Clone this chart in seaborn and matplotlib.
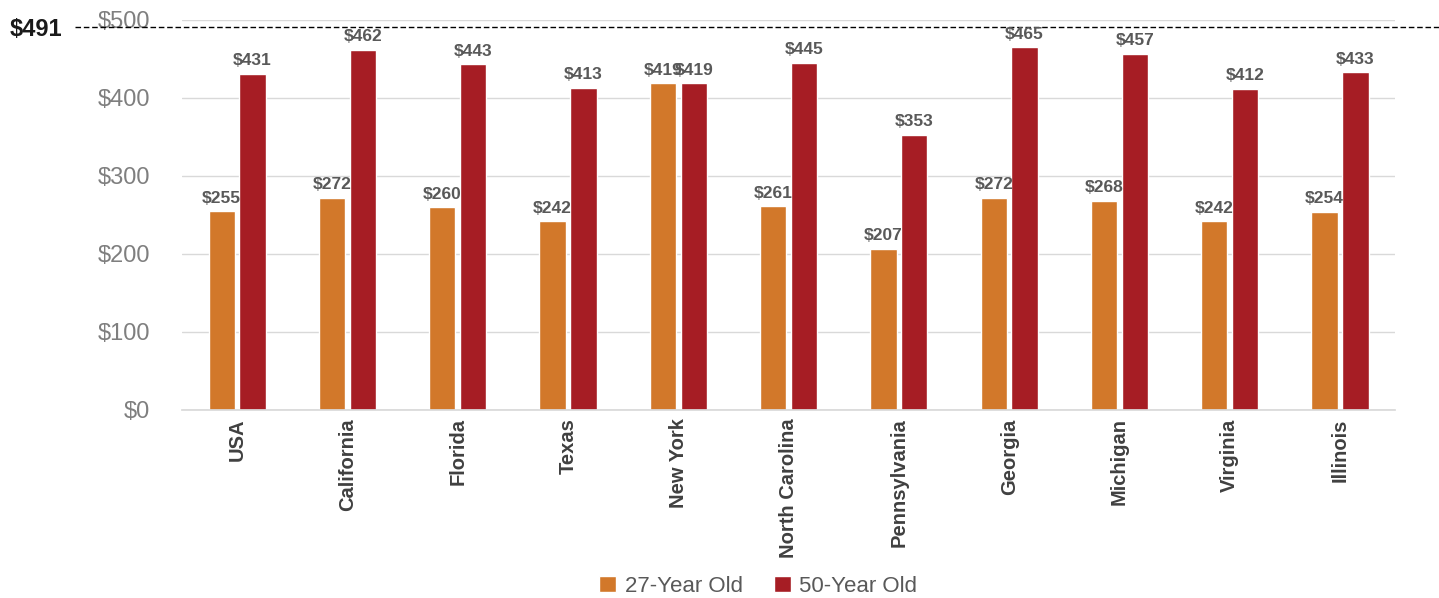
import matplotlib
matplotlib.use("Agg")
import pandas as pd
import matplotlib.pyplot as plt
import seaborn as sns

states = ["USA", "California", "Florida", "Texas", "New York", "North Carolina",
          "Pennsylvania", "Georgia", "Michigan", "Virginia", "Illinois"]
age_27 = [255, 272, 260, 242, 419, 261, 207, 272, 268, 242, 254]
age_50 = [431, 462, 443, 413, 419, 445, 353, 465, 457, 412, 433]
series = ["27-Year Old", "50-Year Old"]
reference = 491

df = pd.DataFrame({
    "state": states * 2,
    "cost": age_27 + age_50,
    "group": [series[0]] * len(states) + [series[1]] * len(states),
})

sns.set_theme(style="white")
plt.rcParams["font.family"] = ["Liberation Sans", "DejaVu Sans"]

fig = plt.figure(figsize=(14.39, 5.98), dpi=100)
ax = fig.add_axes([0.1265, 0.3144, 0.8430, 0.6522])

sns.barplot(data=df, x="state", y="cost", hue="group", order=states,
            hue_order=series, palette=["#D2782A", "#A61D24"],
            width=0.56, gap=0.15, ax=ax, saturation=1)

for cont in ax.containers:
    ax.bar_label(cont, labels=[f"${v:.0f}" for v in cont.datavalues],
                 padding=4, fontsize=12.5, fontweight="bold", color="#595959")

ax.set_ylim(0, 500)
ax.set_xlim(-0.5, len(states) - 0.5)
ax.set_yticks(range(0, 501, 100))
ax.set_yticklabels([f"${v}" for v in range(0, 501, 100)], fontsize=17, color="#7f7f7f")
ax.tick_params(axis="y", pad=23, length=0)
ax.tick_params(axis="x", length=0, pad=6)
ax.set_xticks(range(len(states)))
ax.set_xticklabels(states, rotation=90, fontsize=14.5, fontweight="bold", color="#404040")
ax.set_xlabel("")
ax.set_ylabel("")
ax.yaxis.grid(True, color="#d9d9d9", linewidth=1)
ax.set_axisbelow(True)
for s in ["top", "right", "left"]:
    ax.spines[s].set_visible(False)
ax.spines["bottom"].set_color("#d9d9d9")

# reference line
ax.axhline(reference, xmin=(75 - 182) / 1213, xmax=(1439 - 182) / 1213,
           color="black", linestyle=(0, (4, 2)), linewidth=1, clip_on=False)
ax.annotate(f"${reference}", xy=(0, reference), xycoords=("figure fraction", "data"),
            xytext=(10, -3), textcoords="offset pixels", ha="left", va="center",
            fontsize=17, fontweight="bold", color="#1a1a1a")

ax.get_legend().remove()
handles, labels = ax.get_legend_handles_labels()
leg = fig.legend(handles, labels, loc="center", bbox_to_anchor=(0.527, 0.02), ncol=2,
                 frameon=False, fontsize=16, handlelength=0.75, handleheight=0.75,
                 columnspacing=1.4, handletextpad=0.4)
for t in leg.get_texts():
    t.set_color("#595959")

fig.savefig("out.png", dpi=100)
